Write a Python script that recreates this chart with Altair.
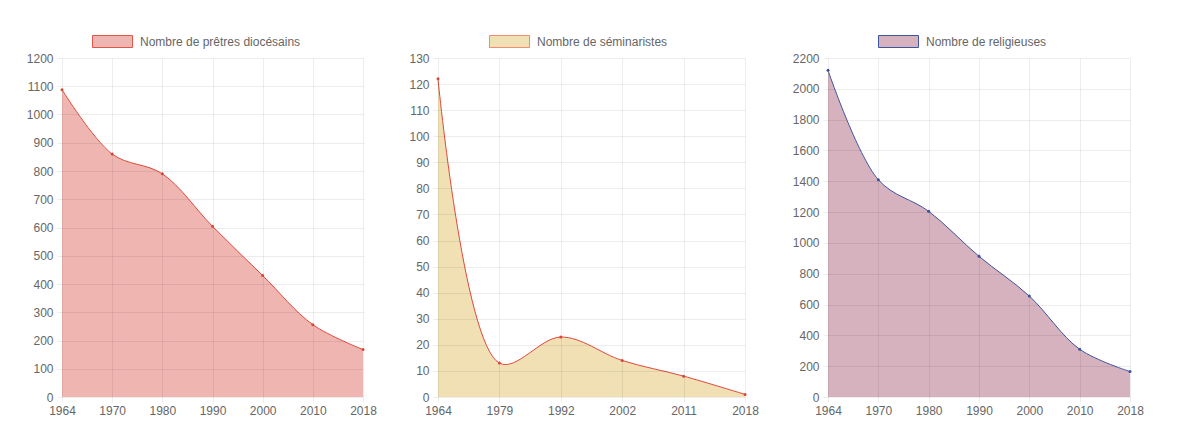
import altair as alt
import pandas as pd

# Data
annees_pretres = ["1964", "1970", "1980", "1990", "2000", "2010", "2018"]
pretres = [1088, 860, 790, 604, 430, 256, 168]

annees_seminaristes = ["1964", "1979", "1992", "2002", "2011", "2018"]
seminaristes = [122, 13, 23, 14, 8, 1]

annees_religieuses = ["1964", "1970", "1980", "1990", "2000", "2010", "2018"]
religieuses = [2120, 1410, 1205, 913, 655, 310, 165]

FONT = "Liberation Sans"
LEGEND_SHAPE = "M-1,-0.3H1V0.3H-1Z"
PLOT_H = 339


def panel(years, values, label, fill, line, legend_stroke, ymax, ystep,
          width, legend_x):
    df = pd.DataFrame({"annee": years, "valeur": values, "serie": label})
    axis_common = dict(
        grid=True, gridColor="black", gridOpacity=0.07,
        tickColor="black", tickOpacity=0.07, tickSize=5,
        domain=False, labelColor="#666666", labelFont=FONT,
        labelFontSize=12, title=None, zindex=1,
    )
    x = alt.X("annee:O", sort=years,
              scale=alt.Scale(type="point", padding=0),
              axis=alt.Axis(labelAngle=0, labelPadding=3, **axis_common))
    y = alt.Y("valeur:Q", scale=alt.Scale(domain=[0, ymax], nice=False),
              axis=alt.Axis(values=list(range(0, ymax + 1, ystep)),
                            format="d", labelPadding=4, **axis_common))
    base = alt.Chart(df).encode(x=x, y=y)
    area = base.mark_area(interpolate="catmull-rom", opacity=1).encode(
        fill=alt.Fill("serie:N", scale=alt.Scale(range=[fill]),
                      legend=alt.Legend(
                          title=None, orient="none", legendX=legend_x,
                          legendY=-37, symbolType=LEGEND_SHAPE,
                          symbolSize=1600, symbolStrokeColor=legend_stroke,
                          symbolStrokeWidth=1, symbolOpacity=1,
                          labelFont=FONT, labelFontSize=12,
                          labelColor="#666666", labelOffset=7,
                          labelLimit=400,
                      ))
    )
    ln = base.mark_line(interpolate="catmull-rom", color=line, strokeWidth=1)
    pts = base.mark_point(filled=True, color=line, size=9, opacity=1)
    return alt.layer(area, ln, pts).properties(width=width, height=PLOT_H)


def spacer(width):
    return alt.Chart(pd.DataFrame({"v": [0]})).mark_point(opacity=0).encode(
        x=alt.value(0), y=alt.value(0)
    ).properties(width=width, height=PLOT_H)


p1 = panel(annees_pretres, pretres, "Nombre de prêtres diocésains",
           "#EFB5B1", "#E0483B", "#E0574B", 1200, 100, 301, 30)
p2 = panel(annees_seminaristes, seminaristes, "Nombre de séminaristes",
           "#F1E0B3", "#E0483B", "#EF8C72", 130, 10, 307, 51)
p3 = panel(annees_religieuses, religieuses, "Nombre de religieuses",
           "#D5B2BE", "#3E54A0", "#3E54A0", 2200, 200, 302, 50)

chart = alt.hconcat(p1, spacer(75), p2, spacer(83), p3,
                    spacing=0, bounds="flush").resolve_scale(
    x="independent", y="independent", fill="independent"
).properties(
    padding={"left": 18, "top": 13, "right": 10, "bottom": 10},
).configure_view(stroke=None)

chart.save("out.html", embed_options={"renderer": "svg", "actions": False})
